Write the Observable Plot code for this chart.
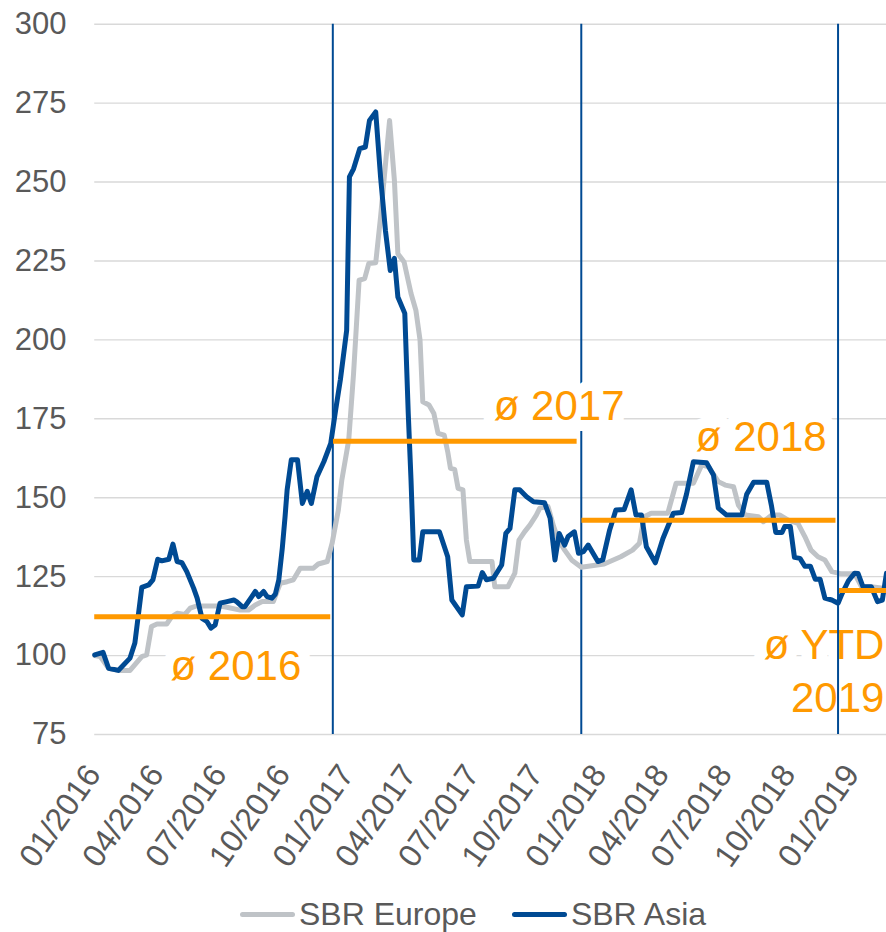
<!DOCTYPE html>
<html>
<head>
<meta charset="utf-8">
<script src="https://cdn.jsdelivr.net/npm/d3@7"></script>
<script src="https://cdn.jsdelivr.net/npm/@observablehq/plot@0.6"></script>
<style>
  html, body { margin: 0; padding: 0; background: #fff; }
  body { width: 886px; font-family: "Liberation Sans", Arial, sans-serif; }
  #legend { height: 68px; display: flex; align-items: center; color: #595959; font-size: 32px; padding-left: 240px; box-sizing: border-box; }
  .item { display: flex; align-items: center; }
  .sw { width: 55px; height: 5px; border-radius: 3px; margin-right: 4px; }
</style>
</head>
<body>
<div id="chart"></div>
<div id="legend"></div>
<script>
const seriesNames = ["SBR Europe", "SBR Asia"];
const seriesColors = ["#bfc3c7", "#004a93"];

const europeDates = ["2016-01-23","2016-01-31","2016-02-12","2016-02-26","2016-03-14","2016-03-31","2016-04-07","2016-04-14","2016-04-22","2016-05-06","2016-05-13","2016-05-21","2016-06-01","2016-06-09","2016-06-18","2016-07-08","2016-07-22","2016-08-01","2016-08-20","2016-09-01","2016-09-11","2016-09-21","2016-10-07","2016-10-17","2016-10-27","2016-11-05","2016-11-15","2016-12-04","2016-12-11","2016-12-24","2016-12-31","2017-01-09","2017-01-14","2017-01-24","2017-01-31","2017-02-08","2017-02-16","2017-02-22","2017-03-04","2017-03-11","2017-03-24","2017-03-31","2017-04-05","2017-04-14","2017-04-24","2017-05-01","2017-05-07","2017-05-11","2017-05-20","2017-05-27","2017-06-02","2017-06-11","2017-06-16","2017-06-20","2017-06-26","2017-07-01","2017-07-08","2017-07-13","2017-07-18","2017-08-19","2017-08-23","2017-09-11","2017-09-21","2017-09-27","2017-10-05","2017-10-13","2017-10-22","2017-10-27","2017-11-08","2017-11-16","2017-11-23","2017-12-02","2017-12-12","2017-12-26","2018-01-28","2018-02-21","2018-03-10","2018-03-20","2018-03-27","2018-04-06","2018-04-30","2018-05-12","2018-06-06","2018-06-18","2018-06-28","2018-07-12","2018-07-22","2018-08-03","2018-08-10","2018-08-20","2018-09-08","2018-09-15","2018-09-27","2018-10-09","2018-10-21","2018-11-04","2018-11-14","2018-11-23","2018-12-03","2018-12-13","2018-12-23","2019-01-06","2019-01-25","2019-02-04","2019-02-18","2019-03-07","2019-03-12"];
const europeValues = [100,99.7,96,95.3,95.3,99.7,100.2,109.2,110,110,112.3,113.4,113,115,115.7,115.7,115.7,115.3,114.4,114.4,116,117.1,117.1,122.9,123.4,124,127.7,127.7,129,129.8,135.6,146.1,155.6,168.3,189.4,218.9,219.4,224.2,224.4,238.9,269.5,250.5,227.3,224.7,214.7,209.4,200,180.4,179.4,176.7,170.4,169.8,164.6,159.3,159,153,152.5,136.6,129.8,129.8,121.8,121.8,126.1,136.6,139.2,141.4,144.5,146.7,147.2,140.9,136.6,133.4,130.3,128,129,131.3,133.4,135.6,144,145.1,145.1,154.6,154.6,160.4,159.8,155.1,154,153.5,147.7,144.5,144,142.4,144.5,144.5,142.9,141.9,137.7,133.4,131.3,130.3,126.6,125.9,125.9,121.8,121.8,121.3,121];

const asiaDates = ["2016-01-23","2016-02-04","2016-02-12","2016-02-26","2016-03-14","2016-03-21","2016-03-31","2016-04-10","2016-04-16","2016-04-23","2016-04-29","2016-05-09","2016-05-15","2016-05-21","2016-05-28","2016-06-04","2016-06-14","2016-06-19","2016-06-26","2016-07-03","2016-07-09","2016-07-15","2016-07-22","2016-08-01","2016-08-11","2016-08-15","2016-08-23","2016-08-27","2016-09-06","2016-09-11","2016-09-16","2016-09-23","2016-09-28","2016-10-05","2016-10-10","2016-10-15","2016-10-20","2016-10-24","2016-10-27","2016-11-02","2016-11-11","2016-11-18","2016-11-25","2016-12-01","2016-12-09","2016-12-19","2016-12-29","2017-01-05","2017-01-12","2017-01-21","2017-01-25","2017-01-31","2017-02-09","2017-02-17","2017-02-23","2017-03-04","2017-03-11","2017-03-18","2017-03-25","2017-03-31","2017-04-05","2017-04-15","2017-04-20","2017-04-24","2017-04-28","2017-05-06","2017-05-11","2017-06-04","2017-06-16","2017-06-22","2017-07-07","2017-07-13","2017-07-30","2017-08-05","2017-08-11","2017-08-21","2017-09-02","2017-09-08","2017-09-14","2017-09-21","2017-09-28","2017-10-08","2017-10-18","2017-11-03","2017-11-11","2017-11-18","2017-11-24","2017-12-02","2017-12-07","2017-12-16","2017-12-22","2017-12-29","2018-01-05","2018-01-19","2018-01-26","2018-02-05","2018-02-14","2018-02-26","2018-03-08","2018-03-15","2018-03-23","2018-03-30","2018-04-12","2018-04-23","2018-05-08","2018-05-20","2018-05-27","2018-06-06","2018-06-25","2018-07-05","2018-07-12","2018-07-24","2018-08-15","2018-08-22","2018-09-01","2018-09-20","2018-09-27","2018-10-03","2018-10-12","2018-10-16","2018-10-24","2018-10-30","2018-11-07","2018-11-14","2018-11-22","2018-11-29","2018-12-06","2018-12-13","2018-12-23","2019-01-01","2019-01-07","2019-01-16","2019-01-25","2019-01-30","2019-02-06","2019-02-18","2019-02-27","2019-03-06","2019-03-12"];
const asiaValues = [100.2,101,96,95.3,99.2,104,121.6,122.4,124,130.5,130,130.5,135.3,129.8,129.4,126.6,121.3,118.2,111.8,110.8,108.7,109.7,116.6,117.1,117.6,117.1,115.5,115.5,118.7,120.3,118.7,120.3,118.7,118.2,119.5,124,134,144,152.5,162,162,148.2,152,148.2,156.6,161.4,167.2,177.7,187.5,203,251.6,254.2,260.6,261.1,269.5,272.2,251.6,234.7,222,225.8,213.6,208.4,176.7,155.6,130.3,130.3,139.2,139.2,131.3,117.6,112.9,121.8,122,126.3,124,124.5,128.7,138.7,140.3,152.5,152.5,150.3,148.7,148.4,143.5,130.3,138.7,135,137.7,139.2,132.4,132.9,135,129.8,130.3,139.8,146.1,146.3,152.5,144.5,144.5,134.5,129.4,137.1,145.1,145.3,151.1,161.4,161.1,157.2,146.7,144.5,144.5,151.1,154.9,154.9,147.2,139,139,140.9,140.9,131.1,130.8,128.3,128.3,124.2,124.2,118.2,117.6,116.6,119.7,123.7,126.1,126,121.8,121.8,117.1,117.6,126.1];

// yearly averages (orange)
const avgStart = ["2016-01-23","2017-01-02","2017-12-27","2019-01-03"];
const avgEnd   = ["2016-12-29","2017-12-20","2018-12-29","2019-03-12"];
const avgValue = [112.3, 167.9, 142.9, 120.6];
const labelTexts  = ["ø 2016", "ø 2017", "ø 2018", "ø YTD\n2019"];
const labelDates  = ["2016-08-14", "2017-11-24", "2018-09-12", "2019-03-09"];
const labelValues = [97.7, 179.8, 170, 95.8];
const labelAnchor = ["middle", "middle", "middle", "end"];

// year separators
const separatorDates = ["2017-01-01", "2017-12-26", "2019-01-01"];

const yTicks = [75, 100, 125, 150, 175, 200, 225, 250, 275, 300];
const xTickDates = ["2016-01-01","2016-04-01","2016-07-01","2016-10-01","2017-01-01","2017-04-01","2017-07-01","2017-10-01","2018-01-01","2018-04-01","2018-07-01","2018-10-01","2019-01-01"];
const xDomain = ["2016-01-01", "2019-03-12"];

const parse = s => new Date(s + "T00:00:00Z");
const europe = europeDates.map((d, i) => ({date: parse(d), value: europeValues[i]}));
const asia = asiaDates.map((d, i) => ({date: parse(d), value: asiaValues[i]}));
const avgs = avgValue.map((v, i) => ({x1: parse(avgStart[i]), x2: parse(avgEnd[i]), y: v}));
const labels = labelTexts.map((t, i) => ({text: t, date: parse(labelDates[i]), value: labelValues[i], anchor: labelAnchor[i]}));
const seps = separatorDates.map(parse);
const dataStart = parse(europeDates[0]);
const dataEnd = parse(xDomain[1]);

const orange = "#ff9900";
const blue = seriesColors[1];
const font = "Liberation Sans, Arial, sans-serif";

const labelMarks = (halo) => ["middle", "end"].map(a => Plot.text(labels.filter(l => l.anchor === a), {
  x: "date", y: "value", text: "text", textAnchor: a, lineAnchor: "middle",
  fontSize: 42, lineHeight: 1.24, fontFamily: font,
  fill: halo ? "white" : orange,
  stroke: halo ? "white" : "none",
  strokeWidth: halo ? 22 : 0, strokeLinejoin: "round"
}));

const chart = Plot.plot({
  width: 886, height: 880,
  marginLeft: 79, marginRight: 0, marginTop: 23.7, marginBottom: 146,
  style: {fontFamily: font, fontSize: "31px", color: "#595959", background: "white", overflow: "visible"},
  x: {type: "utc", domain: xDomain.map(parse)},
  y: {domain: [75, 300]},
  marks: [
    Plot.ruleY(yTicks, {y: d => d, x1: dataStart, x2: dataEnd, stroke: "#d9d9d9", strokeWidth: 1.4}),
    Plot.ruleX(seps.slice(0, 2), {x: d => d, stroke: blue, strokeWidth: 2}),
    ...labelMarks(true),
    Plot.line(europe, {x: "date", y: "value", stroke: seriesColors[0], strokeWidth: 5, strokeLinejoin: "round"}),
    Plot.line(asia, {x: "date", y: "value", stroke: seriesColors[1], strokeWidth: 5, strokeLinejoin: "round"}),
    Plot.ruleY(avgs, {x1: "x1", x2: "x2", y: "y", stroke: orange, strokeWidth: 5}),
    ...labelMarks(false),
    Plot.ruleX(seps.slice(2), {x: d => d, stroke: blue, strokeWidth: 2}),
    Plot.axisY({ticks: yTicks, tickSize: 0, tickPadding: 13, fontSize: 31, label: null}),
    Plot.axisX({ticks: xTickDates.map(parse), tickFormat: d3.utcFormat("%m/%Y"), tickSize: 0, tickPadding: 34,
      tickRotate: -55, textAnchor: "end", lineAnchor: "middle", dx: 14, fontSize: 32, label: null})
  ]
});
document.getElementById("chart").appendChild(chart);

const legend = document.getElementById("legend");
seriesNames.forEach((name, i) => {
  const item = document.createElement("div");
  item.className = "item";
  if (i > 0) item.style.marginLeft = "35px";
  const sw = document.createElement("div");
  sw.className = "sw";
  sw.style.background = seriesColors[i];
  const t = document.createElement("span");
  t.textContent = name;
  item.appendChild(sw); item.appendChild(t);
  legend.appendChild(item);
});
</script>
</body>
</html>
